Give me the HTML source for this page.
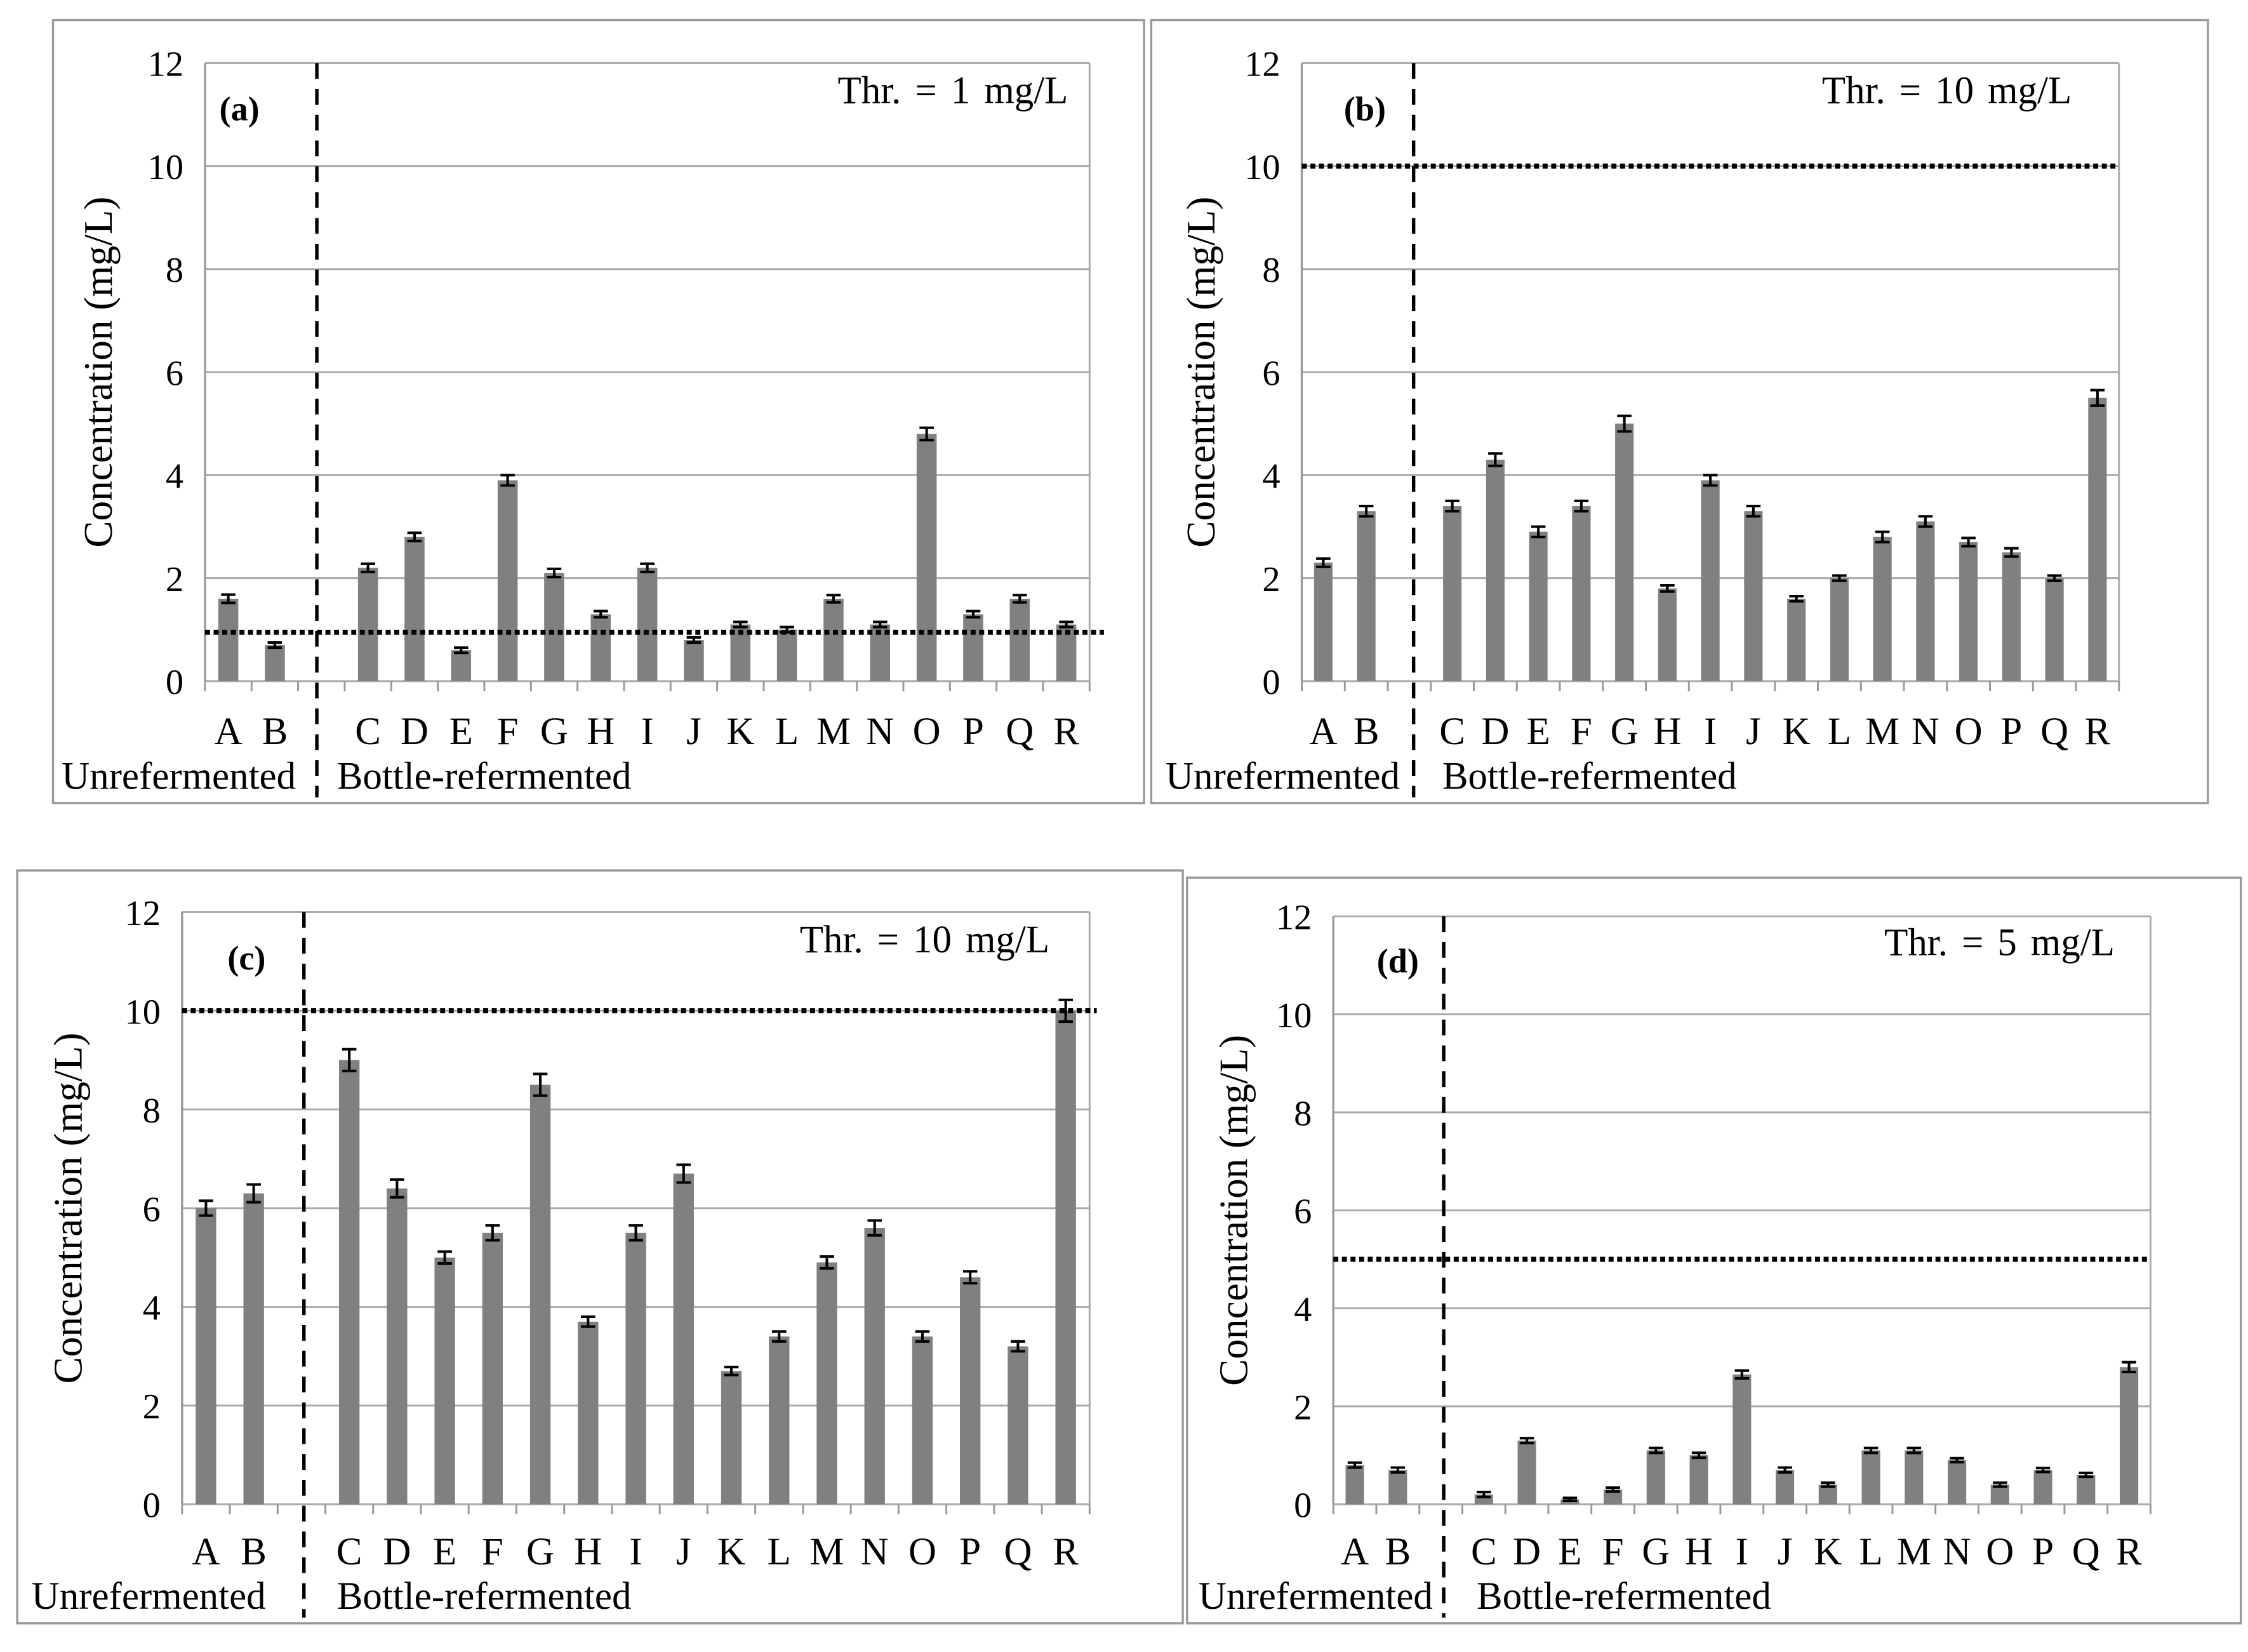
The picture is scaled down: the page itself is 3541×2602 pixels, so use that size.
<!DOCTYPE html>
<html><head><meta charset="utf-8"><style>
html,body{margin:0;padding:0;background:#fff;}
svg{display:block;}
text{font-family:"Liberation Serif",serif;fill:#000;}
</style></head><body>
<svg id="fig" width="3541" height="2602" viewBox="0 0 1568 1152" preserveAspectRatio="none" xmlns="http://www.w3.org/2000/svg"></svg>
<script>
const categories = ["A","B","C","D","E","F","G","H","I","J","K","L","M","N","O","P","Q","R"];
const valuesA = [1.6,0.7,2.2,2.8,0.6,3.9,2.1,1.3,2.2,0.8,1.1,1.0,1.6,1.1,4.8,1.3,1.6,1.1];
const valuesB = [2.3,3.3,3.4,4.3,2.9,3.4,5.0,1.8,3.9,3.3,1.6,2.0,2.8,3.1,2.7,2.5,2.0,5.5];
const valuesC = [6.0,6.3,9.0,6.4,5.0,5.5,8.5,3.7,5.5,6.7,2.7,3.4,4.9,5.6,3.4,4.6,3.2,10.0];
const valuesD = [0.8,0.7,0.2,1.3,0.1,0.3,1.1,1.0,2.65,0.7,0.4,1.1,1.1,0.9,0.4,0.7,0.6,2.8];
const errorsA = [0.08,0.05,0.08,0.08,0.05,0.1,0.08,0.06,0.08,0.05,0.05,0.05,0.07,0.05,0.12,0.06,0.07,0.05];
const errorsB = [0.08,0.1,0.1,0.12,0.1,0.1,0.15,0.06,0.1,0.1,0.05,0.05,0.1,0.1,0.08,0.08,0.05,0.15];
const errorsC = [0.15,0.18,0.22,0.18,0.12,0.15,0.22,0.1,0.15,0.18,0.08,0.1,0.12,0.15,0.1,0.12,0.1,0.22];
const errorsD = [0.05,0.05,0.05,0.05,0.03,0.04,0.05,0.05,0.08,0.05,0.04,0.05,0.05,0.04,0.04,0.04,0.04,0.1];
const yTicks = [0,2,4,6,8,10,12];
const thresholds = [0.95,10,10,5];
const thrLabels = ["Thr. = 1 mg/L","Thr. = 10 mg/L","Thr. = 10 mg/L","Thr. = 5 mg/L"];
const panelLabels = ["(a)","(b)","(c)","(d)"];

const NS="http://www.w3.org/2000/svg";
const svg=document.getElementById('fig');
function mk(tag,attrs,parent,txt){const e=document.createElementNS(NS,tag);for(const k in attrs)e.setAttribute(k,attrs[k]);if(txt!==undefined)e.textContent=txt;(parent||svg).appendChild(e);return e;}

const panels=[
 {box:[37,14,761,546],x0:143,x1:760,yTop:44,yBot:475,vals:valuesA,errs:errorsA,ytitleX:78,catY:519,grpY:550,unrefX:43,divX:221,bottleX:235,plX:167,plY:84,thrX:745,thrY:72,dotEnd:770},
 {box:[803,14,737,546],x0:908,x1:1478,yTop:44,yBot:475,vals:valuesB,errs:errorsB,ytitleX:847,catY:519,grpY:550,unrefX:813,divX:986,bottleX:1006,plX:952,plY:84,thrX:1445,thrY:72,dotEnd:1478},
 {box:[12,607,813,525],x0:127,x1:760,yTop:636,yBot:1049,vals:valuesC,errs:errorsC,ytitleX:57,catY:1091,grpY:1122,unrefX:22,divX:212,bottleX:235,plX:172,plY:676,thrX:732,thrY:664,dotEnd:765},
 {box:[828,612,735,520],x0:930,x1:1500,yTop:639,yBot:1049,vals:valuesD,errs:errorsD,ytitleX:870,catY:1091,grpY:1122,unrefX:836,divX:1007,bottleX:1030,plX:975,plY:678,thrX:1475,thrY:666,dotEnd:1500}
];

panels.forEach((p,pi)=>{
 const g=mk('g',{});
 
 
 const b=mk('rect',{x:p.box[0],y:p.box[1],width:p.box[2],height:p.box[3],fill:'none',stroke:'#999','stroke-width':1.5},g);
 
 
 const yScale=v=>p.yBot-(v/12)*(p.yBot-p.yTop);
 const nSlots=19, sw=(p.x1-p.x0)/nSlots;
 const slotOf=i=>i<2?i:i+1;
 const xc=i=>p.x0+(slotOf(i)+0.5)*sw;
 yTicks.forEach(t=>{
  const y=yScale(t);
  const l=mk('line',{x1:p.x0,x2:p.x1,y1:y,y2:y,stroke:'#aaa','stroke-width':1.3},g);
  
  
  const tx=mk('text',{x:p.x0-15,y:y+9,'text-anchor':'end','font-size':25},g,String(t));
  
  
 });
 const ax=mk('line',{x1:p.x0,x2:p.x0,y1:p.yTop,y2:p.yBot,stroke:'#999','stroke-width':1.5},g);
 
 
 const ax2=mk('line',{x1:p.x1,x2:p.x1,y1:p.yTop,y2:p.yBot,stroke:'#aaa','stroke-width':1.3},g);
 
 
 for(let k=0;k<=nSlots;k++){
  const x=p.x0+k*sw;
  const tk=mk('line',{x1:x,x2:x,y1:p.yBot,y2:p.yBot+7,stroke:'#999','stroke-width':1.3},g);
  
  
 }
 categories.forEach((c,i)=>{
  const v=p.vals[i], e=p.errs[i], x=xc(i), bw=sw*0.43;
  const r=mk('rect',{x:x-bw/2,y:yScale(v),width:bw,height:p.yBot-yScale(v),fill:'#808080'},g);
  
  
  const eg=mk('path',{d:`M${x},${yScale(v+e)}V${yScale(v-e)}M${x-5},${yScale(v+e)}H${x+5}M${x-5},${yScale(v-e)}H${x+5}`,stroke:'#000','stroke-width':1.8,fill:'none'},g);
  
  
  const ct=mk('text',{x:x,y:p.catY,'text-anchor':'middle','font-size':27},g,c);
  
  
 });
 const ty=yScale(thresholds[pi]);
 const th=mk('line',{x1:p.x0,x2:p.dotEnd,y1:ty,y2:ty,stroke:'#000','stroke-width':3.5,'stroke-dasharray':'3.5 2.5'},g);
 
 
 const dx=p.divX;
 const dv=mk('line',{x1:dx,x2:dx,y1:p.yTop,y2:p.box[1]+p.box[3]-4,stroke:'#000','stroke-width':2.4,'stroke-dasharray':'11 7'},g);
 
 
 const yt=mk('text',{x:p.ytitleX,y:(p.yTop+p.yBot)/2,'text-anchor':'middle','font-size':28,transform:`rotate(-90 ${p.ytitleX} ${(p.yTop+p.yBot)/2})`},g,'Concentration (mg/L)');
 
 
 const u=mk('text',{x:p.unrefX,y:p.grpY,'font-size':27},g,'Unrefermented');
 
 
 const bt=mk('text',{x:p.bottleX,y:p.grpY,'font-size':27},g,'Bottle-refermented');
 
 
 const pl=mk('text',{x:p.plX,y:p.plY,'text-anchor':'middle','font-size':24,'font-weight':'bold'},g,panelLabels[pi]);
 
 
 const tl=mk('text',{x:p.thrX,y:p.thrY,'text-anchor':'end','font-size':27,'word-spacing':3},g,thrLabels[pi]);
 
 
});
</script>
</body></html>
